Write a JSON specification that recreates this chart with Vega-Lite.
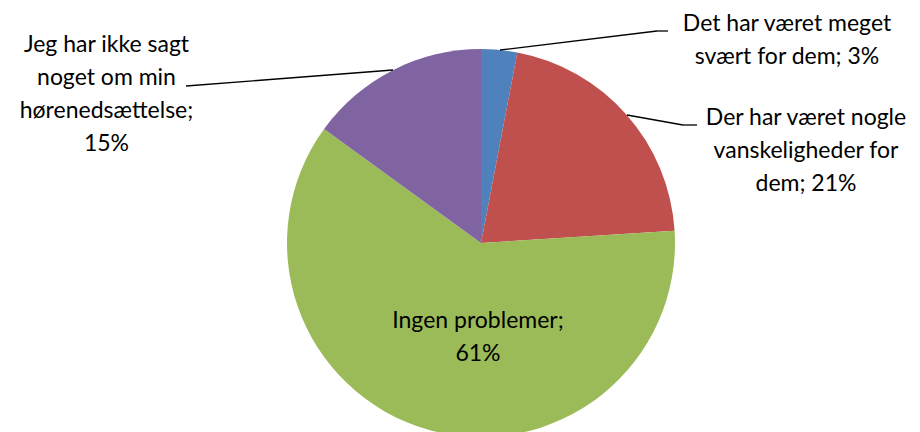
{
  "$schema": "https://vega.github.io/schema/vega-lite/v6.json",
  "width": 878,
  "height": 378,
  "autosize": {"type": "none"},
  "padding": {"left": 42, "top": 54, "right": 0, "bottom": 0},
  "background": "white",
  "config": {"view": {"stroke": null}},
  "data": {
    "values": [
      {"cat": "Det har været meget svært for dem", "value": 3, "ord": 1, "label": "Det har været meget\nsvært for dem; 3%"},
      {"cat": "Der har været nogle vanskeligheder for dem", "value": 21, "ord": 2, "label": "Der har været nogle\nvanskeligheder for\ndem; 21%"},
      {"cat": "Ingen problemer", "value": 61, "ord": 3, "label": "Ingen problemer;\n61%"},
      {"cat": "Jeg har ikke sagt noget om min hørenedsættelse", "value": 15, "ord": 4, "label": "Jeg har ikke sagt\nnoget om min\nhørenedsættelse;\n15%"}
    ]
  },
  "layer": [
    {
      "mark": {"type": "arc", "radius": 194},
      "encoding": {
        "theta": {"field": "value", "type": "quantitative", "stack": true},
        "order": {"field": "ord", "type": "quantitative"},
        "color": {
          "field": "cat",
          "type": "nominal",
          "scale": {
            "domain": ["Det har været meget svært for dem", "Der har været nogle vanskeligheder for dem", "Ingen problemer", "Jeg har ikke sagt noget om min hørenedsættelse"],
            "range": ["#4F81BD", "#C0504D", "#9BBB59", "#8064A2"]
          },
          "legend": null
        }
      }
    },
    {
      "mark": {
        "type": "text",
        "radius": 0,
        "font": "Lato",
        "fontSize": 23,
        "lineHeight": 33,
        "lineBreak": "\n",
        "align": "center",
        "baseline": "middle",
        "color": "black",
        "dx": {"expr": "datum.ord == 1 ? 306 : datum.ord == 2 ? 325 : datum.ord == 3 ? -3 : -374.5"},
        "dy": {"expr": "datum.ord == 1 ? -219 : datum.ord == 2 ? -125 : datum.ord == 3 ? 78 : -198"}
      },
      "encoding": {
        "theta": {"field": "value", "type": "quantitative", "stack": true},
        "order": {"field": "ord", "type": "quantitative"},
        "text": {"field": "label", "type": "nominal"}
      }
    },
    {
      "transform": [{"filter": "datum.ord == 1"}],
      "mark": {"type": "rule", "color": "black", "strokeWidth": 1.3},
      "encoding": {"x": {"value": 458}, "y": {"value": -4}, "x2": {"value": 615}, "y2": {"value": -23}}
    },
    {
      "transform": [{"filter": "datum.ord == 1"}],
      "mark": {"type": "rule", "color": "black", "strokeWidth": 1.3},
      "encoding": {"x": {"value": 615}, "y": {"value": -23}, "x2": {"value": 626}, "y2": {"value": -23}}
    },
    {
      "transform": [{"filter": "datum.ord == 2"}],
      "mark": {"type": "rule", "color": "black", "strokeWidth": 1.3},
      "encoding": {"x": {"value": 585}, "y": {"value": 61}, "x2": {"value": 641}, "y2": {"value": 71}}
    },
    {
      "transform": [{"filter": "datum.ord == 2"}],
      "mark": {"type": "rule", "color": "black", "strokeWidth": 1.3},
      "encoding": {"x": {"value": 641}, "y": {"value": 71}, "x2": {"value": 655}, "y2": {"value": 71}}
    },
    {
      "transform": [{"filter": "datum.ord == 4"}],
      "mark": {"type": "rule", "color": "black", "strokeWidth": 1.3},
      "encoding": {"x": {"value": 351}, "y": {"value": 16}, "x2": {"value": 144}, "y2": {"value": 32}}
    }
  ]
}
